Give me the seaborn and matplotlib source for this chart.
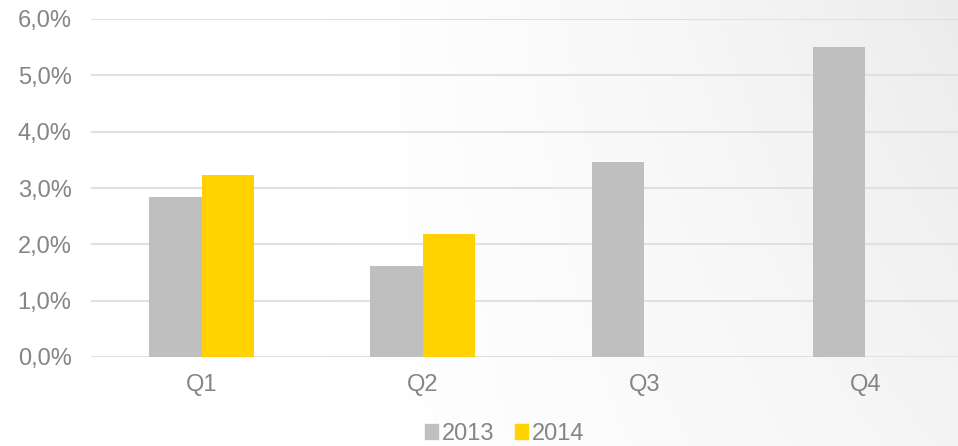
import numpy as np
import pandas as pd
import matplotlib
matplotlib.use("Agg")
import matplotlib.pyplot as plt
import matplotlib.patches as mpatches
from matplotlib.ticker import FuncFormatter, MultipleLocator
import seaborn as sns

# data
quarters = ["Q1", "Q2", "Q3", "Q4"]
growth_2013 = [0.0284, 0.0161, 0.0346, 0.0551]
growth_2014 = [0.0323, 0.0219, np.nan, np.nan]
years = ["2013", "2014"]
colors = {"2013": "#BFBFBF", "2014": "#FFD200"}

df = pd.DataFrame({
    "quarter": quarters * 2,
    "year": ["2013"] * 4 + ["2014"] * 4,
    "value": growth_2013 + growth_2014,
}).dropna()

sns.set_theme(style="white")
plt.rcParams["font.family"] = ["Liberation Sans", "DejaVu Sans"]
text_grey = "#858585"
fs = 17

fig = plt.figure(figsize=(9.58, 4.46), dpi=100)

# soft grey gradient in the background, darker towards the top right
bg = fig.add_axes([0, 0, 1, 1], zorder=-10)
xx, yy = np.meshgrid(np.linspace(0, 1, 400), np.linspace(0, 1, 200))
t = np.clip((xx - 0.35) / 0.65, 0, 1) ** 1.3 * (0.55 + 0.45 * (1 - yy))
shade = 1 - 0.075 * t
bg.imshow(np.dstack([shade] * 3), aspect="auto", extent=[0, 1, 0, 1], origin="upper")
bg.axis("off")

ax = fig.add_axes([91 / 958, 89 / 446, 885 / 958, 338 / 446])
ax.patch.set_alpha(0)
sns.barplot(data=df, x="quarter", y="value", hue="year", order=quarters,
            hue_order=years, palette=colors, width=0.475, saturation=1,
            edgecolor="none", legend=False, ax=ax)

ax.set_xlim(-0.5, 3.5)
ax.set_ylim(0, 0.06)
ax.yaxis.set_major_locator(MultipleLocator(0.01))
ax.yaxis.set_major_formatter(FuncFormatter(lambda v, _: f"{v * 100:.1f}%".replace(".", ",")))
ax.grid(axis="y", color="#E0E0E0", linewidth=1.5)
ax.set_axisbelow(True)
for s in ax.spines.values():
    s.set_visible(False)
ax.set_xlabel("")
ax.set_ylabel("")
ax.tick_params(axis="y", length=0, pad=14, labelsize=fs, labelcolor=text_grey)
ax.tick_params(axis="x", length=0, pad=12, labelsize=fs, labelcolor=text_grey)

handles = [mpatches.Patch(color=colors[y], label=y) for y in years]
fig.legend(handles=handles, loc="center", bbox_to_anchor=(0.527, 0.027), ncol=2,
           frameon=False, fontsize=fs, labelcolor=text_grey, handlelength=0.55,
           handleheight=0.55, handletextpad=0.15, columnspacing=0.9,
           borderpad=0.1)

fig.savefig("out.png", dpi=100)
